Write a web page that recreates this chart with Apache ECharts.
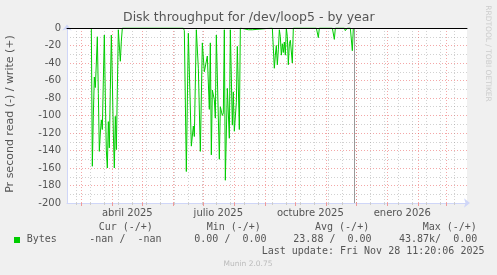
<!DOCTYPE html>
<html><head><meta charset="utf-8">
<script src="https://cdn.jsdelivr.net/npm/echarts@6/dist/echarts.min.js"></script>
<style>html,body{margin:0;padding:0;background:#f0f0f0}#c{width:497px;height:275px}</style>
</head><body><div id="c"></div>
<script>
// ---- data (read values shown as negative) ----
const readDates = [
 '2025-03-11','2025-03-12','2025-03-13','2025-03-14','2025-03-15','2025-03-16','2025-03-17','2025-03-18',
 '2025-03-19','2025-03-20','2025-03-21','2025-03-22','2025-03-23','2025-03-24','2025-03-25','2025-03-26',
 '2025-03-27','2025-03-28','2025-03-29','2025-03-30','2025-03-31','2025-04-01','2025-04-02','2025-04-03',
 '2025-04-04','2025-04-05','2025-04-06','2025-04-07','2025-04-08','2025-04-09','2025-04-10','2025-04-11',
 '2025-06-11','2025-06-12','2025-06-14','2025-06-16','2025-06-17','2025-06-19','2025-06-21','2025-06-22',
 '2025-06-24','2025-06-25','2025-06-26','2025-06-28','2025-06-30','2025-07-02','2025-07-04','2025-07-05',
 '2025-07-07','2025-07-08','2025-07-09','2025-07-10','2025-07-12','2025-07-13','2025-07-14','2025-07-15',
 '2025-07-17','2025-07-18','2025-07-19','2025-07-20','2025-07-21','2025-07-22','2025-07-23','2025-07-25',
 '2025-07-27','2025-07-28','2025-07-30','2025-07-31','2025-08-01','2025-08-03','2025-08-04','2025-08-06',
 '2025-08-07','2025-08-15','2025-08-17','2025-08-19','2025-08-20',
 '2025-09-08','2025-09-10','2025-09-11','2025-09-12','2025-09-13','2025-09-14','2025-09-15','2025-09-16',
 '2025-09-17','2025-09-18','2025-09-19','2025-09-20','2025-09-21','2025-09-22','2025-09-23','2025-09-24',
 '2025-09-25','2025-09-26','2025-09-27','2025-09-28','2025-09-29',
 '2025-10-22','2025-10-24','2025-10-25','2025-11-07','2025-11-09','2025-11-10',
 '2025-11-19','2025-11-20','2025-11-22','2025-11-25','2025-11-27','2025-11-28'
];
const readValues = [
 0,-158,-100,-56,-68,-40,-10,-75,
 -141,-120,-105,-116,-60,-8,-80,-140,
 -160,-107,-137,-70,-8,-60,-120,-160,
 -101,-139,-70,-2,-3,-38,-15,0,
 0,-3,-164,-6,-6,-135,-112,-124,
 -2,-3,-46,-141,-17,-50,-50,-32,
 -93,-17,-145,-71,-82,-103,-8,-8,
 -150,-90,-88,-100,-97,-2,-174,-69,
 -126,-2,-111,-73,-118,-85,-21,-116,
 0,-2,0,-2,0,
 0,-46,-31,-20,-42,-25,-2,-10,
 -31,-18,-28,-16,-31,0,-10,-42,
 -18,-14,-14,-40,0,
 0,-11,0,0,-13,0,
 0,-3,0,0,-26,0
];
const xTickDates = ['2025-04-16','2025-07-16','2025-10-16','2026-01-16'];
const xTickLabels = ['abril 2025','julio 2025','octubre 2025','enero 2026'];
const legendHeaders = ['Cur (-/+)','Min (-/+)','Avg (-/+)','Max (-/+)'];
const legendValues = ['-nan /  -nan','0.00 /  0.00','23.88 /  0.00','43.87k/  0.00'];
const seriesName = 'Bytes';
const lastUpdateText = 'Last update: Fri Nov 28 11:20:06 2025';
const lastUpdate = [2025, 11, 28, 11, 20, 6];

// ---- helpers ----
function t(s){const p=s.split('-').map(Number);return new Date(p[0],p[1]-1,p[2]).getTime();}
const xMin = new Date(2025,1,14,16).getTime();
const xMax = new Date(2026,2,21,16).getTime();
const lastTs = new Date(lastUpdate[0],lastUpdate[1]-1,lastUpdate[2],lastUpdate[3],lastUpdate[4],lastUpdate[5]).getTime();

const monthStarts = [];
for (let i=0;;i++){const v=new Date(2025,2+i,1).getTime(); if(v>xMax)break; monthStarts.push(v);}
const biweekly = [];
for (let i=0;;i++){const v=new Date(2025,1,24+14*i).getTime(); if(v>xMax)break; biweekly.push(v);}
const labelTs = xTickDates.map(t);

const FONT='DejaVu Sans', MONO='DejaVu Sans Mono', TXT='#555';
const RED='rgba(230,60,60,0.45)', GREY='rgba(140,140,140,0.4)', AXIS='#cfd6f8';
const base = {type:'value', min:xMin, max:xMax, gridIndex:0, scale:true};

const chart = echarts.init(document.getElementById('c'), null, {renderer:'canvas'});
const option = {
  animation:false,
  backgroundColor:'#f0f0f0',
  grid:{left:67,right:30,top:28,bottom:72,show:true,backgroundColor:'#ffffff',borderWidth:0},
  xAxis:[
    Object.assign({},base,{position:'bottom',
      axisLine:{show:true,onZero:false,lineStyle:{color:AXIS},symbol:['none','arrow'],symbolSize:[7,6],symbolOffset:[0,3]},
      axisTick:{show:false},splitLine:{show:false},
      axisLabel:{customValues:labelTs,color:TXT,fontFamily:FONT,fontSize:10,margin:5,
        formatter:function(v){const i=labelTs.indexOf(v);return i>=0?xTickLabels[i]:'';}}}),
    Object.assign({},base,{position:'bottom',
      axisLine:{show:false,onZero:false},
      axisTick:{show:true,customValues:biweekly,length:2,lineStyle:{color:'#ccc'}},
      axisLabel:{show:false},
      splitLine:{show:true,lineStyle:{color:GREY,type:[1,2],width:1}}}),
    Object.assign({},base,{position:'bottom',
      axisLine:{show:false,onZero:false},
      axisTick:{show:true,customValues:monthStarts,length:3,lineStyle:{color:'#e99'}},
      axisLabel:{show:false},
      splitLine:{show:true,lineStyle:{color:RED,type:[1,2],width:1}}}),
    Object.assign({},base,{position:'top',z:5,
      axisLine:{show:true,onZero:false,lineStyle:{color:'#000000',width:1}},
      axisTick:{show:false},axisLabel:{show:false},splitLine:{show:false}})
  ],
  yAxis:{type:'value',min:-200,max:0,interval:20,
    axisLine:{show:true,onZero:false,lineStyle:{color:AXIS},symbol:['none','arrow'],symbolSize:[7,6],symbolOffset:[0,3.5]},
    axisTick:{show:false},
    axisLabel:{color:TXT,fontFamily:FONT,fontSize:10,margin:6},
    splitLine:{show:true,lineStyle:{color:RED,type:[1,2],width:1}},
    minorTick:{show:false,splitNumber:2},
    minorSplitLine:{show:true,lineStyle:{color:GREY,type:[1,2],width:1}}
  },
  series:[{
    name:seriesName,type:'line',xAxisIndex:0,yAxisIndex:0,
    data:readDates.map((d,i)=>[t(d),readValues[i]]),
    symbol:'none',showSymbol:false,
    lineStyle:{color:'#00cc00',width:1},itemStyle:{color:'#00cc00'},
    markLine:{silent:true,symbol:['none','none'],label:{show:false},
      lineStyle:{color:'#999999',type:'solid',width:1},data:[{xAxis:lastTs}]}
  }],
  graphic:[
    {type:'text',x:248.8,y:18,style:{text:'Disk throughput for /dev/loop5 - by year',fill:TXT,fontFamily:FONT,fontSize:12.5,align:'center',verticalAlign:'middle'}},
    {type:'text',x:10.5,y:114,rotation:Math.PI/2,style:{text:'Pr second read (-) / write (+)',fill:TXT,fontFamily:FONT,fontSize:11,align:'center',verticalAlign:'middle'}},
    {type:'text',x:487.5,y:53.5,rotation:-Math.PI/2,style:{text:'RRDTOOL / TOBI OETIKER',fill:'#cccccc',fontFamily:FONT,fontSize:7.5,align:'center',verticalAlign:'middle'}},
    {type:'rect',shape:{x:14,y:237,width:6,height:6},style:{fill:'#00cc00'}},
    {type:'text',x:26.7,y:239.7,style:{text:seriesName,fill:TXT,fontFamily:MONO,fontSize:10,align:'left',verticalAlign:'middle'}},
    ...legendHeaders.map((s,i)=>({type:'text',x:[98.7,206.7,315,422.7][i],y:227.3,style:{text:s,fill:TXT,fontFamily:MONO,fontSize:10,align:'left',verticalAlign:'middle'}})),
    ...legendValues.map((s,i)=>({type:'text',x:[89.3,194.3,293.3,399][i],y:239.7,style:{text:s,fill:TXT,fontFamily:MONO,fontSize:10,align:'left',verticalAlign:'middle'}})),
    {type:'text',x:261.7,y:251.7,style:{text:lastUpdateText,fill:TXT,fontFamily:MONO,fontSize:10,align:'left',verticalAlign:'middle'}},
    {type:'text',x:248,y:263.7,style:{text:'Munin 2.0.75',fill:'#bbbbbb',fontFamily:FONT,fontSize:7.5,align:'center',verticalAlign:'middle'}}
  ]
};
chart.setOption(option);
</script>
</body></html>
